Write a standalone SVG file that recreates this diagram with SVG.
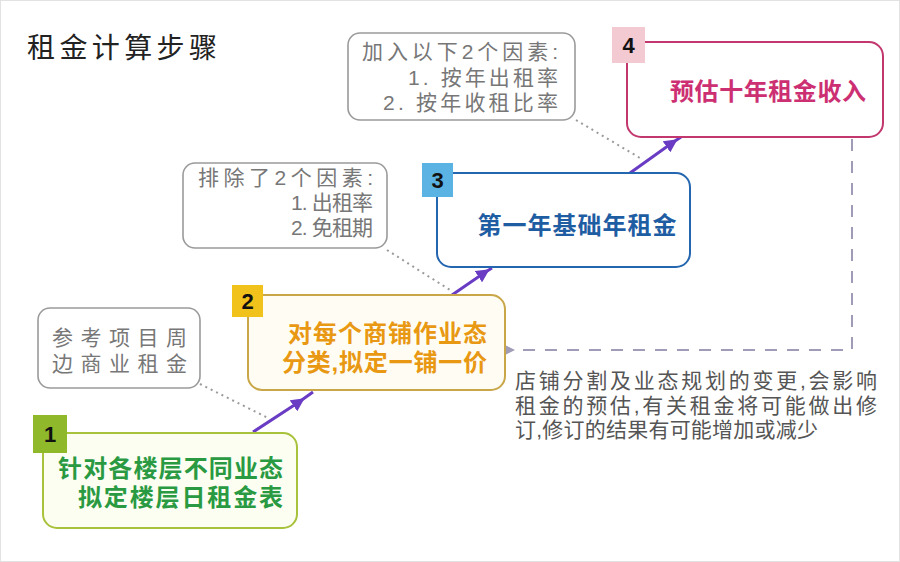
<svg xmlns="http://www.w3.org/2000/svg" width="900" height="562" viewBox="0 0 900 562">
<defs>
<style>
.cjk{font-family:"Liberation Sans","Noto Sans CJK SC",sans-serif;}
.main{font-weight:700;font-size:24px;}
.gray{fill:#777;font-size:21px;}
.callout{fill:#fff;stroke:#9a9a9a;stroke-width:1.6;}
.badge{font-family:"Liberation Sans",Arial,sans-serif;font-weight:700;font-size:22px;fill:#111;text-anchor:middle;}
.flow{fill:none;stroke:#6a3cc4;stroke-width:3;marker-mid:url(#ah);}
.lead{fill:none;stroke:#9a9a9a;stroke-width:2;stroke-dasharray:2 4;}
</style>
<marker id="ah" viewBox="0 0 10 10" refX="5" refY="5" markerWidth="4.5" markerHeight="4.5" orient="auto" markerUnits="strokeWidth">
<path d="M0,0 L10,5 L0,10 z" fill="#6a3cc4"/>
</marker>
<marker id="gh" viewBox="0 0 10 10" refX="2" refY="5" markerWidth="5" markerHeight="5" orient="auto" markerUnits="strokeWidth">
<path d="M0,5 L10,0 L10,10 z" fill="#a09cb8"/>
</marker>
</defs>
<rect x="0" y="0" width="900" height="562" fill="#fff"/>
<rect x="0.5" y="0.5" width="899" height="561" fill="none" stroke="#e2e2e2"/>

<g id="title">
<text class="cjk" x="27" y="58" font-size="28" fill="#222" textLength="190" lengthAdjust="spacing">租金计算步骤</text>
</g>

<g id="connectors">
<path class="lead" d="M200,384 L268,418"/>
<path class="lead" d="M387,250 L450,290"/>
<path class="lead" d="M576,120 L640,158"/>
<path class="flow" d="M253,432 L299,402 L313,392"/>
<path class="flow" d="M452,295 L484,273 L492,268"/>
<path class="flow" d="M630,173 L672,143 L681,137"/>
<path d="M852,139 L852,350 L513,350" fill="none" stroke="#a09cb8" stroke-width="2" stroke-dasharray="12 10" marker-end="url(#gh)"/>
</g>

<g id="callout-top">
<rect class="callout" x="348" y="33" width="227" height="87" rx="12"/>
<text class="cjk gray" text-anchor="end" x="558" y="59" textLength="196" lengthAdjust="spacing">加入以下2个因素:</text>
<text class="cjk gray" text-anchor="end" x="558" y="85" textLength="150" lengthAdjust="spacing">1. 按年出租率</text>
<text class="cjk gray" text-anchor="end" x="558" y="110" textLength="175" lengthAdjust="spacing">2. 按年收租比率</text>
</g>

<g id="callout-mid">
<rect class="callout" x="183" y="163" width="204" height="85" rx="12"/>
<text class="cjk gray" text-anchor="end" x="373" y="185" textLength="175" lengthAdjust="spacing">排除了2个因素:</text>
<text class="cjk gray" text-anchor="end" x="373" y="210" textLength="82" lengthAdjust="spacing">1. 出租率</text>
<text class="cjk gray" text-anchor="end" x="373" y="235" textLength="82" lengthAdjust="spacing">2. 免租期</text>
</g>

<g id="callout-left">
<rect class="callout" x="38" y="308" width="162" height="80" rx="12"/>
<text class="cjk gray" x="52" y="345" font-size="23" textLength="135" lengthAdjust="spacing">参考项目周</text>
<text class="cjk gray" x="52" y="371" font-size="23" textLength="135" lengthAdjust="spacing">边商业租金</text>
</g>

<g id="step4">
<rect x="627" y="42" width="256" height="95" rx="14" fill="#fff" stroke="#c2386e" stroke-width="2"/>
<rect x="612" y="27" width="33" height="36" fill="#f3c9d2"/>
<text class="badge" x="628.5" y="53">4</text>
<text class="cjk main" x="768" y="100" text-anchor="middle" fill="#cc2f72" textLength="196" lengthAdjust="spacing">预估十年租金收入</text>
</g>

<g id="step3">
<rect x="437" y="173" width="253" height="94" rx="14" fill="#fff" stroke="#2566b0" stroke-width="2"/>
<rect x="422" y="163" width="31" height="34" fill="#5ab3e2"/>
<text class="badge" x="437.5" y="188">3</text>
<text class="cjk main" x="577" y="234" text-anchor="middle" fill="#1f5da3" font-size="25" textLength="199" lengthAdjust="spacing">第一年基础年租金</text>
</g>

<g id="step2">
<rect x="248" y="295" width="257" height="95" rx="14" fill="#fffdf3" stroke="#c9a648" stroke-width="2"/>
<rect x="232" y="285" width="31" height="32" fill="#f2c21c"/>
<text class="badge" x="247.5" y="309">2</text>
<text class="cjk main" x="487" y="342" text-anchor="end" fill="#e89812" textLength="199" lengthAdjust="spacing">对每个商铺作业态</text>
<text class="cjk main" x="487" y="371" text-anchor="end" fill="#e89812" textLength="205" lengthAdjust="spacing">分类,拟定一铺一价</text>
</g>

<g id="step1">
<rect x="43" y="433" width="254" height="95" rx="14" fill="#fcfef2" stroke="#a8c23c" stroke-width="2"/>
<rect x="33" y="415" width="34" height="38" fill="#8fb82a"/>
<text class="badge" x="50" y="442">1</text>
<text class="cjk main" x="283" y="477" text-anchor="end" fill="#2a9a42" font-size="25" textLength="225" lengthAdjust="spacing">针对各楼层不同业态</text>
<text class="cjk main" x="283" y="506" text-anchor="end" fill="#2a9a42" font-size="25" textLength="205" lengthAdjust="spacing">拟定楼层日租金表</text>
</g>

<g id="note">
<text class="cjk" x="515" y="388" font-size="21" fill="#555" textLength="362" lengthAdjust="spacing">店铺分割及业态规划的变更,会影响</text>
<text class="cjk" x="515" y="413" font-size="21" fill="#555" textLength="362" lengthAdjust="spacing">租金的预估,有关租金将可能做出修</text>
<text class="cjk" x="515" y="437" font-size="21" fill="#555" textLength="303" lengthAdjust="spacing">订,修订的结果有可能增加或减少</text>
</g>
</svg>
